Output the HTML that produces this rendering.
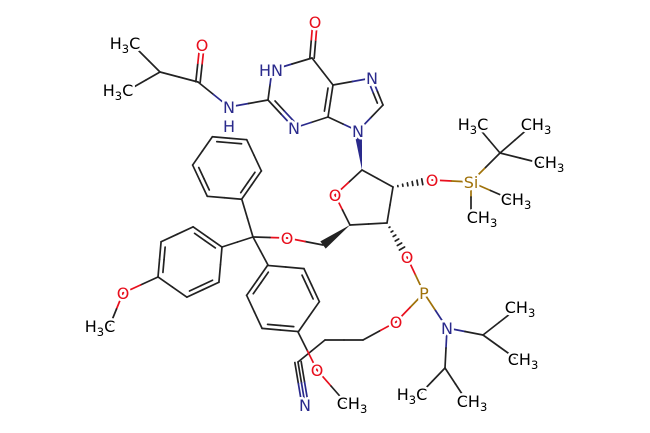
<!DOCTYPE html>
<html><head><meta charset="utf-8"><style>
html,body{margin:0;padding:0;background:#fff;width:650px;height:433px;overflow:hidden}
svg{display:block}
text{font-family:"DejaVu Sans","Liberation Sans",sans-serif;font-size:16px;text-anchor:middle;stroke:#fff;stroke-width:5px;paint-order:stroke;stroke-linejoin:round}
.k{fill:#000}.o{fill:#e8101e}.n{fill:#2a2a8c}.p{fill:#a0720a}
tspan.s{font-size:11.5px}
</style></head><body>
<svg id="s" width="650" height="433" viewBox="0 0 650 433" xmlns="http://www.w3.org/2000/svg">
<g id="b" stroke-width="1.7" stroke-linecap="round" fill="none"></g>
<g id="t">
<text class="k" x="125" y="49">H<tspan class="s" dy="4">3</tspan><tspan dy="-4">C</tspan></text>
<text class="k" x="118" y="96">H<tspan class="s" dy="4">3</tspan><tspan dy="-4">C</tspan></text>
<text class="o" x="202" y="51">O</text>
<text class="n" x="229" y="113">N</text>
<text class="n" x="229" y="132">H</text>
<text class="n" x="271" y="76">HN</text>
<text class="o" x="315" y="28">O</text>
<text class="n" x="372" y="84">N</text>
<text class="n" x="294" y="134">N</text>
<text class="n" x="358" y="137">N</text>
<text class="o" x="335" y="201">O</text>
<text class="o" x="432" y="186">O</text>
<text class="p" x="471" y="188">Si</text>
<text class="k" x="473" y="130">H<tspan class="s" dy="4">3</tspan><tspan dy="-4">C</tspan></text>
<text class="k" x="536" y="130">CH<tspan class="s" dy="4">3</tspan></text>
<text class="k" x="549" y="168">CH<tspan class="s" dy="4">3</tspan></text>
<text class="k" x="516" y="205">CH<tspan class="s" dy="4">3</tspan></text>
<text class="k" x="482" y="223">CH<tspan class="s" dy="4">3</tspan></text>
<text class="o" x="287" y="244">O</text>
<text class="o" x="123" y="299">O</text>
<text class="k" x="100" y="332">H<tspan class="s" dy="4">3</tspan><tspan dy="-4">C</tspan></text>
<text class="o" x="317" y="376">O</text>
<text class="k" x="352" y="409">CH<tspan class="s" dy="4">3</tspan></text>
<text class="n" x="305" y="411">N</text>
<text class="o" x="407" y="263">O</text>
<text class="p" x="424" y="299">P</text>
<text class="o" x="396" y="328">O</text>
<text class="n" x="447" y="334">N</text>
<text class="k" x="520" y="313">CH<tspan class="s" dy="4">3</tspan></text>
<text class="k" x="523" y="365">CH<tspan class="s" dy="4">3</tspan></text>
<text class="k" x="412" y="400">H<tspan class="s" dy="4">3</tspan><tspan dy="-4">C</tspan></text>
<text class="k" x="472" y="407">CH<tspan class="s" dy="4">3</tspan></text>
</g>
</svg>
<script>
(function(){
var K="#222",O="#e8101e",N="#2a2a8c",P="#a0720a";
var A={Me1:[138,50,K],Me2:[132,88,K],CH:[160,72,K],Cc:[198,82,K],Oa:[202,45,O],Na:[229,107,N],
C2:[268,100,K],N1:[272,70,N],C6:[312,58,K],O6:[315,22,O],C5:[333,85,K],N7:[372,78,N],C8:[383,105,K],N9:[358,131,N],C4:[328,117,K],N3:[294,128,N],
C1:[362,170,K],O4:[335,195,O],C2p:[393,187,K],O2:[432,180,O],Si:[471,182,P],Ct:[500,153,K],Mt1:[478,127,K],Mt2:[530,127,K],Mt3:[540,163,K],MS1:[510,199,K],MS2:[471,212,K],
C3:[387,223,K],C4p:[350,225,K],C5p:[323,245,K],O5:[287,238,O],Cq:[253,237,K],
OL:[123,293,O],MeL:[110,325,K],Oc:[317,370,O],MeC:[345,402,K],
O3:[407,257,O],Pp:[424,293,P],Op:[396,322,O],CH2a:[363,340,K],CH2b:[325,340,K],Cn:[298,362,K],Nn:[305,404,N],
Nd:[447,328,N],CHr:[483,335,K],Mr1:[515,310,K],Mr2:[515,358,K],CHd:[445,368,K],Md1:[420,394,K],Md2:[466,400,K]};
var g=document.getElementById('b'),ns="http://www.w3.org/2000/svg";
function ln(x1,y1,x2,y2,c){var l=document.createElementNS(ns,'line');l.setAttribute('x1',x1);l.setAttribute('y1',y1);l.setAttribute('x2',x2);l.setAttribute('y2',y2);l.setAttribute('stroke',c);g.appendChild(l);}
function seg(p,q){var mx=(p[0]+q[0])/2,my=(p[1]+q[1])/2;ln(p[0],p[1],mx,my,p[2]);ln(mx,my,q[0],q[1],q[2]);}
function b(a,c){seg(A[a],A[c]);}
function off(p,q,d){var dx=q[0]-p[0],dy=q[1]-p[1],L=Math.hypot(dx,dy),nx=-dy/L*d,ny=dx/L*d;return [[p[0]+nx,p[1]+ny,p[2]],[q[0]+nx,q[1]+ny,q[2]]];}
function dbl(a,c){var p=A[a],q=A[c],u=off(p,q,2.2),v=off(p,q,-2.2);seg(u[0],u[1]);seg(v[0],v[1]);}
function inner(p,q,cx,cy){var dx=cx-(p[0]+q[0])/2,dy=cy-(p[1]+q[1])/2,L=Math.hypot(dx,dy),d=4.5;var ox=dx/L*d,oy=dy/L*d;
 var sx=(q[0]-p[0])*0.14,sy=(q[1]-p[1])*0.14;seg([p[0]+ox+sx,p[1]+oy+sy,p[2]],[q[0]+ox-sx,q[1]+oy-sy,q[2]]);}
function ring(cx,cy,r,ang){var v=[];for(var i=0;i<6;i++){var t=(ang+60*i)*Math.PI/180;v.push([cx+r*Math.cos(t),cy+r*Math.sin(t),K]);}
 for(i=0;i<6;i++){seg(v[i],v[(i+1)%6]);if(i%2==1)inner(v[i],v[(i+1)%6],cx,cy);}return v;}
function wedge(a,c,w,col){var p=A[a],q=A[c],dx=q[0]-p[0],dy=q[1]-p[1],L=Math.hypot(dx,dy),nx=-dy/L*w,ny=dx/L*w;
 var pg=document.createElementNS(ns,'polygon');pg.setAttribute('points',p[0]+','+p[1]+' '+(q[0]+nx)+','+(q[1]+ny)+' '+(q[0]-nx)+','+(q[1]-ny));pg.setAttribute('fill',col);g.appendChild(pg);}
function hash(a,c,w,col){var p=A[a],q=A[c],dx=q[0]-p[0],dy=q[1]-p[1],L=Math.hypot(dx,dy),nx=-dy/L,ny=dx/L;
 for(var i=1;i<=6;i++){var f=i/8,x=p[0]+dx*f,y=p[1]+dy*f,h=w*f;ln(x+nx*h,y+ny*h,x-nx*h,y-ny*h,col);}}
b('Me1','CH');b('Me2','CH');b('CH','Cc');dbl('Cc','Oa');b('Cc','Na');b('Na','C2');
b('C2','N1');b('N1','C6');b('C6','C5');b('C5','C4');b('C4','N3');b('N3','C2');dbl('C6','O6');
inner(A.C2,A.N3,305,93);inner(A.C5,A.C4,305,93);
b('C5','N7');b('N7','C8');b('C8','N9');b('N9','C4');inner(A.N7,A.C8,355,102);
wedge('C1','N9',4,N);
b('C1','O4');b('O4','C4p');b('C1','C2p');b('C2p','C3');b('C3','C4p');
hash('C2p','O2',4,K);b('O2','Si');b('Si','Ct');b('Ct','Mt1');b('Ct','Mt2');b('Ct','Mt3');b('Si','MS1');b('Si','MS2');
wedge('C4p','C5p',4.5,K);b('C5p','O5');b('O5','Cq');
hash('C3','O3',4,K);b('O3','Pp');b('Pp','Op');b('Op','CH2a');b('CH2a','CH2b');b('CH2b','Cn');
var p=A.Cn,q=A.Nn;seg(p,q);var u=off(p,q,3.2),v=off(p,q,-3.2);seg(u[0],u[1]);seg(v[0],v[1]);
b('Pp','Nd');b('Nd','CHr');b('CHr','Mr1');b('CHr','Mr2');b('Nd','CHd');b('CHd','Md1');b('CHd','Md2');
ring(227,168,34.5,64.9);
ring(190,262,35.3,-25);
ring(283,298.5,36.5,-115);
seg(A.Cq,[242,200,K]);seg(A.Cq,[222,247,K]);seg(A.Cq,[268,265,K]);
seg([158,277,K],A.OL);b('OL','MeL');
seg([298,332,K],A.Oc);b('Oc','MeC');
})();
</script>
</body></html>
